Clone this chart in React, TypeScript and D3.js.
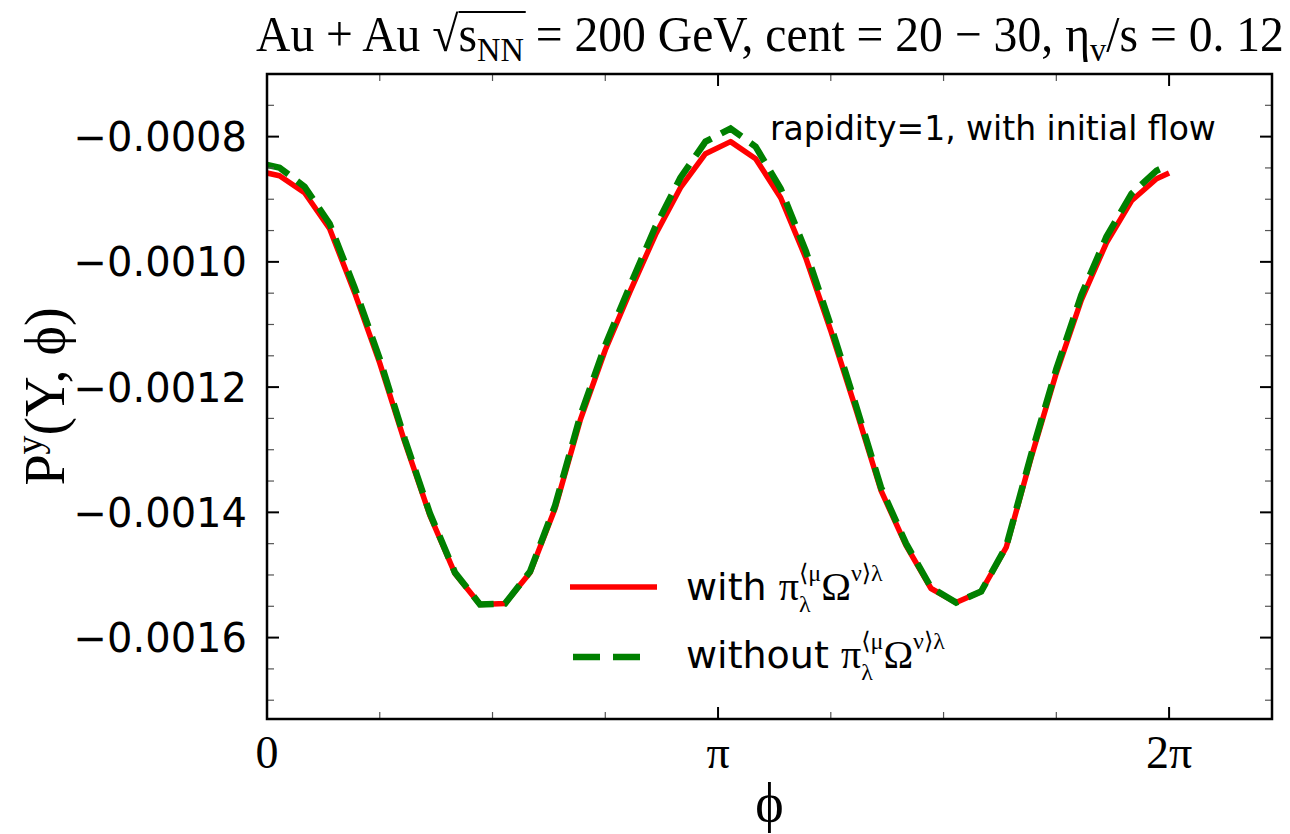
import React, { useEffect, useRef } from 'react';
import * as d3 from 'd3';

// azimuthal angle grid (degrees) and polarization values
const phiDeg = [0, 5, 15, 25, 35, 45, 55, 65, 75, 85, 95, 105, 115, 125, 135, 145, 155, 165, 175,
  185, 195, 205, 215, 225, 235, 245, 255, 265, 275, 285, 295, 305, 315, 325, 335, 345, 355, 360];

const withTerm = [-0.000858, -0.0008624, -0.0008896, -0.0009472, -0.0010496, -0.0011616, -0.001288,
  -0.0014048, -0.0014976, -0.0015472, -0.0015456, -0.001496, -0.0013936, -0.0012528, -0.0011408,
  -0.0010464, -0.0009568, -0.0008816, -0.0008272, -0.000808, -0.0008352, -0.0008976, -0.0009936,
  -0.00111, -0.0012352, -0.0013648, -0.0014528, -0.0015216, -0.001544, -0.0015264, -0.001456,
  -0.001312, -0.0011776, -0.0010608, -0.0009696, -0.0009024, -0.0008672, -0.000858];

const withoutTerm = [-0.0008452, -0.0008496, -0.00088, -0.0009392, -0.0010416, -0.0011552, -0.0012832,
  -0.0014016, -0.001496, -0.001547, -0.0015456, -0.0014944, -0.0013888, -0.0012464, -0.0011328,
  -0.0010368, -0.000944, -0.0008656, -0.000808, -0.0007872, -0.000816, -0.0008832, -0.0009824,
  -0.001102, -0.0012288, -0.00136, -0.0014496, -0.00152, -0.001544, -0.0015264, -0.0014544,
  -0.0013072, -0.0011712, -0.0010528, -0.00096, -0.0008912, -0.0008544, -0.0008452];

const yMajor = [-0.0016, -0.0014, -0.0012, -0.001, -0.0008];
const xMajor = [0, Math.PI, 2 * Math.PI];
const xMajorLabels = ['0', 'π', '2π'];

const SERIF = '"Liberation Serif", "DejaVu Serif", serif';
const SANS = '"DejaVu Sans", sans-serif';

const W = 1290, H = 834;
const left = 267, right = 1272, top = 74, bottom = 719;

type Piece = { t: string; font: string; size: number; shift?: number; stack?: boolean };

// lays out a run of text pieces (sub/superscripts) and returns their extents
function rich(g: any, pieces: Piece[]) {
  let x = 0, prevStart = 0, prevEnd = 0;
  const boxes: { start: number; end: number }[] = [];
  pieces.forEach(p => {
    const start = p.stack ? prevStart : x;
    const el = g.append('text')
      .attr('x', start).attr('y', p.shift || 0)
      .style('font-family', p.font).style('font-size', p.size + 'px')
      .style('white-space', 'pre')
      .text(p.t);
    const w = (el.node() as SVGTextElement).getComputedTextLength();
    const end = start + w;
    x = p.stack ? Math.max(prevEnd, end) : end;
    prevStart = start; prevEnd = end;
    boxes.push({ start, end });
  });
  return { width: x, boxes };
}

const App = () => {
  const ref = useRef<SVGSVGElement>(null);

  useEffect(() => {
    const svg = d3.select(ref.current);
    svg.selectAll('*').remove();

    const x = d3.scaleLinear().domain([0, 7]).range([left, right]);
    const y = d3.scaleLinear().domain([-0.00173, -0.0007]).range([bottom, top]);

    const rad = (d: number) => d * Math.PI / 180;
    const line = d3.line<number>()
      .x((_, i) => x(rad(phiDeg[i])))
      .y(d => y(d));

    svg.append('path').attr('d', line(withTerm)).attr('fill', 'none')
      .attr('stroke', '#ff0000').attr('stroke-width', 5.5).attr('stroke-linejoin', 'round');
    svg.append('path').attr('d', line(withoutTerm)).attr('fill', 'none')
      .attr('stroke', '#008000').attr('stroke-width', 6.5).attr('stroke-dasharray', '24,11');

    // ticks, mirrored on all four sides, pointing inwards
    const ticks = svg.append('g').attr('stroke', '#000');
    const yMinor = d3.range(-0.0017, -0.00070001, 0.00005).filter(v => !yMajor.some(m => Math.abs(m - v) < 1e-9));
    const xMinor = d3.range(1, 8).map(k => k * Math.PI / 4).filter(v => Math.abs(v - Math.PI) > 1e-6);
    yMajor.forEach(v => {
      ticks.append('line').attr('x1', left).attr('x2', left + 12).attr('y1', y(v)).attr('y2', y(v)).attr('stroke-width', 2);
      ticks.append('line').attr('x1', right).attr('x2', right - 12).attr('y1', y(v)).attr('y2', y(v)).attr('stroke-width', 2);
    });
    yMinor.forEach(v => {
      ticks.append('line').attr('x1', left).attr('x2', left + 7).attr('y1', y(v)).attr('y2', y(v)).attr('stroke-width', 1.2).attr('stroke', '#555');
      ticks.append('line').attr('x1', right).attr('x2', right - 7).attr('y1', y(v)).attr('y2', y(v)).attr('stroke-width', 1.2).attr('stroke', '#555');
    });
    xMajor.forEach(v => {
      ticks.append('line').attr('x1', x(v)).attr('x2', x(v)).attr('y1', bottom).attr('y2', bottom - 12).attr('stroke-width', 2);
      ticks.append('line').attr('x1', x(v)).attr('x2', x(v)).attr('y1', top).attr('y2', top + 12).attr('stroke-width', 2);
    });
    xMinor.forEach(v => {
      ticks.append('line').attr('x1', x(v)).attr('x2', x(v)).attr('y1', bottom).attr('y2', bottom - 7).attr('stroke-width', 1.2).attr('stroke', '#555');
      ticks.append('line').attr('x1', x(v)).attr('x2', x(v)).attr('y1', top).attr('y2', top + 7).attr('stroke-width', 1.2).attr('stroke', '#555');
    });

    svg.append('rect').attr('x', left).attr('y', top).attr('width', right - left).attr('height', bottom - top)
      .attr('fill', 'none').attr('stroke', '#000').attr('stroke-width', 2.5);

    // tick labels
    svg.append('g').selectAll('text').data(yMajor).join('text')
      .attr('x', left - 20).attr('y', d => y(d) + 14.5)
      .attr('text-anchor', 'end')
      .style('font-family', SANS).style('font-size', '40px')
      .text(d => d.toFixed(4).replace('-', '−'));
    svg.append('g').selectAll('text').data(xMajor).join('text')
      .attr('x', d => x(d)).attr('y', 768)
      .attr('text-anchor', 'middle')
      .style('font-family', SERIF).style('font-size', '46px')
      .text((_, i) => xMajorLabels[i]);

    // x label
    svg.append('text').attr('x', (left + right) / 2).attr('y', 821).attr('text-anchor', 'middle')
      .style('font-family', SERIF).style('font-size', '54px').text('ϕ');

    // y label
    const yl = svg.append('g');
    const ylr = rich(yl, [
      { t: 'P', font: SERIF, size: 56 },
      { t: 'y', font: SERIF, size: 38, shift: -22 },
      { t: '(Y, ϕ)', font: SERIF, size: 56 },
    ]);
    yl.attr('transform', `translate(64,${(top + bottom) / 2}) rotate(-90) translate(${-ylr.width / 2},0)`);

    // title
    const tg = svg.append('g');
    const tr = rich(tg, [
      { t: 'Au + Au ', font: SERIF, size: 50 },
      { t: '√', font: SERIF, size: 50 },
      { t: 's', font: SERIF, size: 50 },
      { t: 'NN', font: SERIF, size: 34, shift: 10 },
      { t: ' = 200 GeV, cent = 20 − 30, ', font: SERIF, size: 50 },
      { t: 'η', font: SERIF, size: 50 },
      { t: 'v', font: SERIF, size: 34, shift: 10 },
      { t: '/s = 0. 12', font: SERIF, size: 50 },
    ]);
    tg.append('line').attr('x1', tr.boxes[2].start).attr('x2', tr.boxes[3].end + 2)
      .attr('y1', -39).attr('y2', -39).attr('stroke', '#000').attr('stroke-width', 2);
    const sx = 1028 / tr.width;
    tg.attr('transform', `translate(${770 - (tr.width * sx) / 2},51) scale(${sx},1)`);

    // annotation
    svg.append('text').attr('x', 770).attr('y', 140)
      .style('font-family', SANS).style('font-size', '33px')
      .text('rapidity=1, with initial flow');

    // legend
    const lg = svg.append('g');
    lg.append('line').attr('x1', 570).attr('x2', 657).attr('y1', 587).attr('y2', 587)
      .attr('stroke', '#ff0000').attr('stroke-width', 5.5);
    lg.append('line').attr('x1', 573).attr('x2', 640).attr('y1', 657).attr('y2', 657)
      .attr('stroke', '#008000').attr('stroke-width', 6.5).attr('stroke-dasharray', '27,13');
    const labels = ['with ', 'without '];
    labels.forEach((lab, i) => {
      const g = lg.append('g').attr('transform', `translate(686,${600 + i * 68})`);
      rich(g, [
        { t: lab, font: SANS, size: 38 },
        { t: 'π', font: SERIF, size: 40 },
        { t: '⟨μ', font: SERIF, size: 24, shift: -19 },
        { t: 'λ', font: SERIF, size: 24, shift: 12, stack: true },
        { t: 'Ω', font: SERIF, size: 40 },
        { t: 'ν⟩λ', font: SERIF, size: 24, shift: -19 },
      ]);
    });
  }, []);

  return (
    <svg ref={ref} width={W} height={H} viewBox={`0 0 ${W} ${H}`}
      style={{ position: 'absolute', left: 0, top: 0, background: '#fff' }} />
  );
};

export default App;
